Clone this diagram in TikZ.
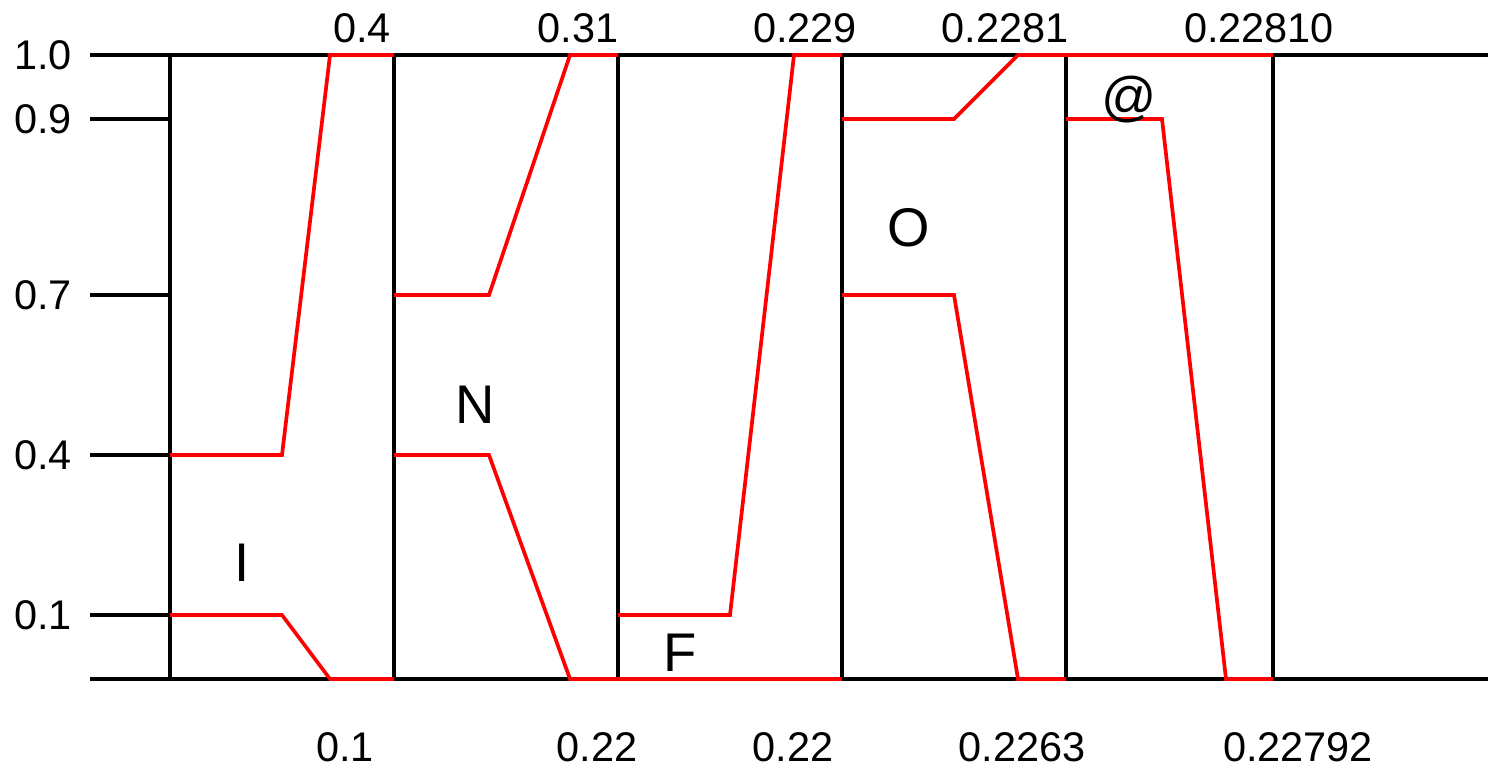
\documentclass[tikz,border=0pt]{standalone}
\usepackage{fontspec}
\setmainfont{Liberation Sans}
\usepackage{tikz}
\usetikzlibrary{positioning}
\definecolor{myred}{RGB}{255,0,0}
\tikzset{
  frame/.style={line width=2.1pt, color=black},
  interval/.style={line width=2.1pt, color=myred, line join=miter},
  numlabel/.style={font=\fontsize{23.6}{27}\selectfont, inner sep=0pt},
  symlabel/.style={font=\fontsize{31}{35}\selectfont, inner sep=0pt}
}

\begin{document}
\begin{tikzpicture}[x=0.02cm, y=-0.02cm]
  \useasboundingbox (0,0) rectangle (1488,768);
  % ── frame ────────────────────────────────────────────────────────────────
  \draw[frame] (90,55)--(1488,55);
  \draw[frame] (90,679)--(1488,679);
  \foreach \yy/\val in {55/1.0, 119/0.9, 295/0.7, 455/0.4, 615/0.1} {
    \draw[frame] (90,\yy)--(170,\yy);
    \node[numlabel, anchor=east] at (72,\yy) {\val};
  }
  \foreach \xx in {170, 394, 618, 842, 1066, 1273}
    \draw[frame] (\xx,55)--(\xx,679);
  % ── intervals ────────────────────────────────────────────────────────────
  % I
  \draw[interval] (170,455)--(282,455)--(330,55)--(394,55);
  \draw[interval] (170,615)--(282,615)--(330,679)--(394,679);
  % N
  \draw[interval] (394,295)--(489,295)--(570,55)--(618,55);
  \draw[interval] (394,455)--(489,455)--(570,679)--(618,679);
  % F
  \draw[interval] (618,615)--(730,615)--(794,55)--(842,55);
  \draw[interval] (618,679)--(842,679);
  % O
  \draw[interval] (842,119)--(954,119)--(1018,55)--(1066,55);
  \draw[interval] (842,295)--(954,295)--(1018,679)--(1066,679);
  % @
  \draw[interval] (1066,55)--(1273,55);
  \draw[interval] (1066,119)--(1162,119)--(1226,679)--(1273,679);
  % ── symbols ──────────────────────────────────────────────────────────────
  \node[symlabel] (symI) at (242,563) {I};
  \node[symlabel] (symN) at (475,405) {N};
  \node[symlabel] (symF) at (680,653) {F};
  \node[symlabel] (symO) at (909,228) {O};
  \node[symlabel] (symAt) at (1129,100) {@};
  % ── bounds ───────────────────────────────────────────────────────────────
  \node[numlabel] (hiI) at (362,28) {0.4};
  \node[numlabel] (hiN) at (578,28) {0.31};
  \node[numlabel] (hiF) at (805,28) {0.229};
  \node[numlabel] (hiO) at (1005,28) {0.2281};
  \node[numlabel] (hiAt) at (1259,28) {0.22810};
  \node[numlabel] (loI) at (345,747) {0.1};
  \node[numlabel] (loN) at (597,747) {0.22};
  \node[numlabel] (loF) at (793,747) {0.22};
  \node[numlabel] (loO) at (1022,747) {0.2263};
  \node[numlabel] (loAt) at (1298,747) {0.22792};
\end{tikzpicture}
\end{document}
